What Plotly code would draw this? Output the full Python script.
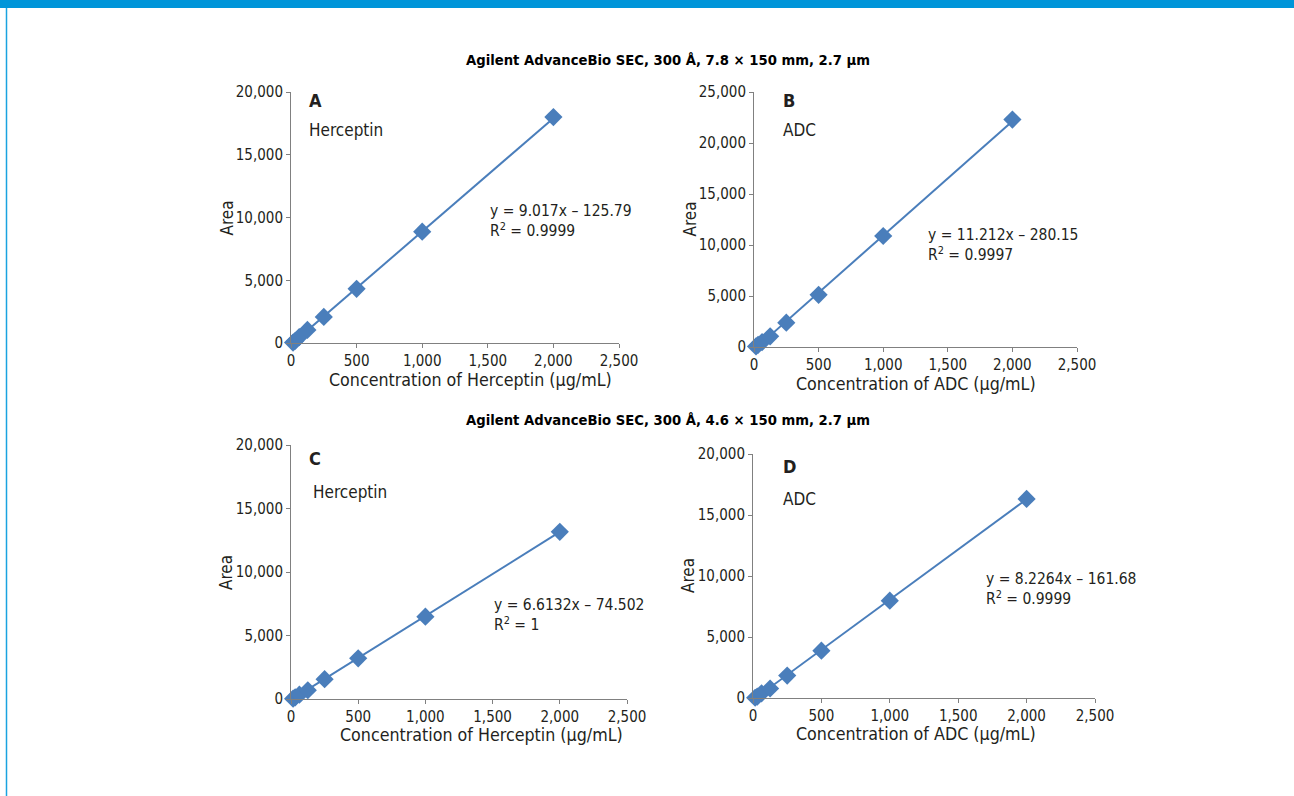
import plotly.graph_objects as go

W, H = 1294, 796

# ---- data ----
conc = [15.625, 31.25, 62.5, 125, 250, 500, 1000, 2000]
area_A = [30, 160, 470, 1040, 2080, 4320, 8870, 18000]
area_B = [60, 200, 480, 1050, 2380, 5120, 10880, 22300]
area_C = [25, 130, 340, 690, 1560, 3200, 6480, 13160]
area_D = [20, 110, 380, 780, 1840, 3880, 7980, 16320]
slopes = [9.017, 11.212, 6.6132, 8.2264]
intercepts = [-125.79, -280.15, -74.502, -161.68]
eq_labels = ["y = 9.017x – 125.79<br>R<sup>2</sup> = 0.9999",
             "y = 11.212x – 280.15<br>R<sup>2</sup> = 0.9997",
             "y = 6.6132x – 74.502<br>R<sup>2</sup> = 1",
             "y = 8.2264x – 161.68<br>R<sup>2</sup> = 0.9999"]
panel_letters = ["A", "B", "C", "D"]
samples = ["Herceptin", "ADC", "Herceptin", "ADC"]
y_max = [20000, 25000, 20000, 20000]
x_ticks = [0, 500, 1000, 1500, 2000, 2500]
titles = ["Agilent AdvanceBio SEC, 300 Å, 7.8 × 150 mm, 2.7 µm",
          "Agilent AdvanceBio SEC, 300 Å, 4.6 × 150 mm, 2.7 µm"]

series = [area_A, area_B, area_C, area_D]

# ---- layout geometry (pixels) ----
boxes = [  # x0, x1, ytop, ybottom
    (291, 619, 92, 343),
    (754, 1077, 92, 347),
    (291, 627, 445, 699),
    (753, 1095, 454, 698),
]
xtitle_pos = [(470, 380), (916, 384), (481, 735), (916, 734)]
eq_pos = [(488, 221), (926, 245), (492, 615), (984, 589)]
letter_pos = [(307, 101), (781, 101), (307, 458), (781, 466)]
sample_pos = [(307, 130), (781, 130), (311, 492), (781, 499)]

FONT = "Liberation Sans Narrow, DejaVu Sans Condensed, Arial Narrow, sans-serif"
BLUE = "#4A7EBB"
TXT = "#231F20"

fig = go.Figure()
annotations = []
for i in range(4):
    x0, x1, yt, yb = boxes[i]
    ax = "" if i == 0 else str(i + 1)
    xa, ya = "x" + ax, "y" + ax
    # trendline
    xl = [conc[0], conc[-1]]
    yl = [slopes[i] * v + intercepts[i] for v in xl]
    fig.add_trace(go.Scatter(x=xl, y=yl, mode="lines", line=dict(color=BLUE, width=2),
                             xaxis=xa, yaxis=ya, showlegend=False, cliponaxis=False, hoverinfo="skip"))
    fig.add_trace(go.Scatter(x=conc, y=series[i], mode="markers",
                             marker=dict(symbol="diamond", size=14, color=BLUE),
                             xaxis=xa, yaxis=ya, showlegend=False, cliponaxis=False))
    ystep = 5000
    fig.update_layout(**{
        "xaxis" + ax: dict(domain=[x0 / W, x1 / W], range=[0, 2500], tickvals=x_ticks,
                           ticktext=[f"{v:,}" for v in x_ticks], anchor=ya, automargin=False,
                           showline=True, linecolor="#808080", linewidth=1,
                           ticks="outside", ticklen=4, tickcolor="#808080",
                           showgrid=False, zeroline=False,
                           tickfont=dict(family=FONT, size=15, color=TXT)),
        "yaxis" + ax: dict(domain=[1 - yb / H, 1 - yt / H], range=[0, y_max[i]],
                           tickvals=list(range(0, y_max[i] + 1, ystep)),
                           ticktext=[f"{v:,}" for v in range(0, y_max[i] + 1, ystep)],
                           anchor=xa, automargin=False,
                           showline=True, linecolor="#808080", linewidth=1,
                           ticks="outside", ticklen=4, tickcolor="#808080",
                           showgrid=False, zeroline=False,
                           tickfont=dict(family=FONT, size=15, color=TXT)),
    })
    xname = "Concentration of " + samples[i] + " (µg/mL)"
    tx, ty = xtitle_pos[i]
    annotations.append(dict(text=xname, x=tx / W, y=1 - ty / H,
                            xref="paper", yref="paper", showarrow=False,
                            xanchor="center", yanchor="middle",
                            font=dict(family=FONT, size=17.7, color=TXT)))
    annotations.append(dict(text="Area", x=(x0 - 65) / W, y=1 - (yt + yb) / 2 / H,
                            xref="paper", yref="paper", showarrow=False, textangle=-90,
                            xanchor="center", yanchor="middle",
                            font=dict(family=FONT, size=17, color=TXT)))
    lx, ly = letter_pos[i]
    annotations.append(dict(text="<b>" + panel_letters[i] + "</b>", x=lx / W, y=1 - ly / H,
                            xref="paper", yref="paper", showarrow=False,
                            xanchor="left", yanchor="middle",
                            font=dict(family=FONT, size=18, color=TXT)))
    sx, sy = sample_pos[i]
    annotations.append(dict(text=samples[i], x=sx / W, y=1 - sy / H,
                            xref="paper", yref="paper", showarrow=False,
                            xanchor="left", yanchor="middle",
                            font=dict(family=FONT, size=17, color=TXT)))
    ex, ey = eq_pos[i]
    annotations.append(dict(text=eq_labels[i], x=ex / W, y=1 - ey / H,
                            xref="paper", yref="paper", showarrow=False,
                            xanchor="left", yanchor="middle", align="left",
                            font=dict(family=FONT, size=15.5, color=TXT)))

for t, ty in zip(titles, [60, 420]):
    annotations.append(dict(text="<b>" + t + "</b>", x=668 / W, y=1 - ty / H,
                            xref="paper", yref="paper", showarrow=False,
                            xanchor="center", yanchor="middle",
                            font=dict(family=FONT, size=14.7, color="#000000")))

shapes = [
    dict(type="rect", xref="paper", yref="paper", x0=0, x1=1, y0=1 - 8 / H, y1=1,
         fillcolor="#0095D9", line=dict(width=0), layer="above"),
    dict(type="line", xref="paper", yref="paper", x0=6.5 / W, x1=6.5 / W, y0=0, y1=1 - 8 / H,
         line=dict(color="#1AA3E0", width=1.5)),
]

fig.update_layout(width=W, height=H, margin=dict(l=0, r=0, t=0, b=0, autoexpand=False),
                  paper_bgcolor="white", plot_bgcolor="white",
                  annotations=annotations, shapes=shapes, showlegend=False)

fig.write_html("out.html", post_script="document.body.style.margin='0';")
